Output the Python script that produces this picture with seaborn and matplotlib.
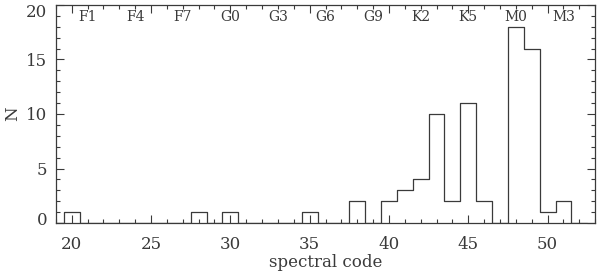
import matplotlib
matplotlib.use("Agg")
import matplotlib.pyplot as plt
import matplotlib.transforms as mtransforms
import seaborn as sns
import pandas as pd
from matplotlib.ticker import MultipleLocator

# Data (zero-count end bins close the outline)
codes  = [19, 20, 28, 30, 35, 38, 40, 41, 42, 43, 44, 45, 46, 48, 49, 50, 51, 52]
counts = [0,  1,  1,  1,  1,  2,  2,  3,  4,  10, 2,  11, 2,  18, 16, 1,  2,  0]

type_codes  = [21, 24, 27, 30, 33, 36, 39, 42, 45, 48, 51]
type_labels = ["F1", "F4", "F7", "G0", "G3", "G6", "G9", "K2", "K5", "M0", "M3"]

sns.set_theme(style="ticks")
plt.rcParams["font.family"] = ["DejaVu Serif"]

ink = "#3a3a3a"
fig = plt.figure(figsize=(6.0, 2.73), dpi=100)
ax = fig.add_axes([0.093, 0.183, 0.899, 0.799])

df = pd.DataFrame({"code": codes, "N": counts})
sns.histplot(data=df, x="code", weights="N", discrete=True, element="step",
             fill=False, color=ink, linewidth=0.9, ax=ax)

ax.set_xlim(19, 53)
ax.set_ylim(0, 20)
ax.xaxis.set_major_locator(MultipleLocator(5))
ax.xaxis.set_minor_locator(MultipleLocator(1))
ax.yaxis.set_major_locator(MultipleLocator(5))
ax.yaxis.set_minor_locator(MultipleLocator(1))
ax.tick_params(which="both", direction="in", top=True, right=True,
               color=ink, width=0.8, labelsize=12, labelcolor=ink)
ax.tick_params(which="major", length=6)
ax.tick_params(which="minor", length=3)
ax.tick_params(axis="x", which="major", pad=9)
ax.tick_params(axis="y", which="major", pad=6)
for s in ax.spines.values():
    s.set_color(ink)
    s.set_linewidth(0.9)

fig.canvas.draw()
for lab in ax.get_yticklabels():
    txt = lab.get_text()
    if txt == "0":
        lab.set_transform(lab.get_transform() +
                          mtransforms.ScaledTranslation(0, 0.05, fig.dpi_scale_trans))
    elif txt == "20":
        lab.set_transform(lab.get_transform() +
                          mtransforms.ScaledTranslation(0, -0.06, fig.dpi_scale_trans))

for c, lab in zip(type_codes, type_labels):
    ax.text(c, 18.85, lab, ha="center", va="center", fontsize=10,
            color=ink)

ax.set_xlabel("spectral code", fontsize=12, color=ink, labelpad=1)
ax.set_ylabel("N", fontsize=12, color=ink, labelpad=4)

fig.savefig("out.png", dpi=100)
